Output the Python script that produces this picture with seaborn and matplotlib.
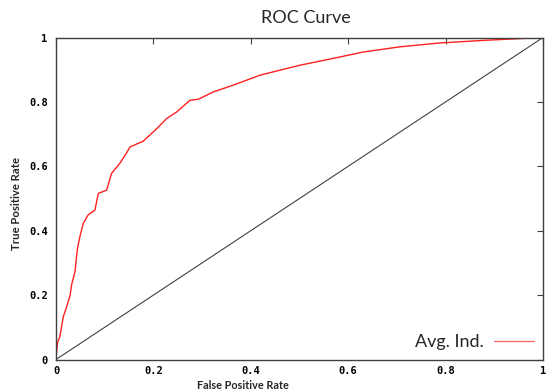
import matplotlib
matplotlib.use("Agg")
import matplotlib.pyplot as plt
import seaborn as sns
import numpy as np
import pandas as pd

sns.set_style("white")

# values
fpr = [0.0, 0.003, 0.008, 0.012, 0.015, 0.022, 0.029, 0.032, 0.039, 0.044, 0.049,
       0.056, 0.066, 0.080, 0.084, 0.087, 0.104, 0.114, 0.131, 0.145, 0.152,
       0.179, 0.207, 0.227, 0.248, 0.275, 0.292, 0.296, 0.323, 0.364, 0.419,
       0.501, 0.569, 0.631, 0.706, 0.788, 0.877, 1.0]
tpr = [0.0, 0.052, 0.071, 0.108, 0.133, 0.164, 0.200, 0.232, 0.273, 0.345, 0.381,
       0.423, 0.449, 0.464, 0.495, 0.516, 0.526, 0.578, 0.609, 0.642, 0.660,
       0.678, 0.717, 0.748, 0.769, 0.805, 0.808, 0.811, 0.831, 0.852, 0.883,
       0.914, 0.935, 0.955, 0.971, 0.983, 0.991, 1.0]
diag = [0.0, 1.0]
ticks = [0, 0.2, 0.4, 0.6, 0.8, 1]
tick_labels = ["0", "0.2", "0.4", "0.6", "0.8", "1"]

roc = pd.DataFrame({"fpr": fpr, "tpr": tpr})
chance = pd.DataFrame({"fpr": diag, "tpr": diag})

fig = plt.figure(figsize=(5.48, 3.92), dpi=100)
ax = fig.add_axes([56 / 548, 1 - 359.5 / 392, 487 / 548, 322 / 392])

sns.lineplot(data=chance, x="fpr", y="tpr", ax=ax, color="#404040", lw=0.8,
             estimator=None, sort=False)
sns.lineplot(data=roc, x="fpr", y="tpr", ax=ax, color="#ff2020", lw=1.0,
             estimator=None, sort=False, label="Avg. Ind.")

ax.set_xlim(0, 1)
ax.set_ylim(0, 1)
ax.set_xticks(ticks)
ax.set_yticks(ticks)
mono = dict(family="DejaVu Sans Mono", weight="bold", size=7.5)
ax.set_xticklabels(tick_labels, fontdict=mono)
ax.set_yticklabels(tick_labels, fontdict=mono)
ax.tick_params(direction="in", top=True, right=True, length=4, width=0.8,
               colors="#404040", pad=6)
ax.tick_params(axis="x", pad=5)
for tl in ax.get_xticklabels() + ax.get_yticklabels():
    tl.set_color("black")
for s in ax.spines.values():
    s.set_color("#404040")
    s.set_linewidth(1.0)
ax.set_xlabel("")
ax.set_ylabel("")

leg = ax.legend(loc="lower right", frameon=False, markerfirst=False,
                prop=dict(family="Lato", size=13), handlelength=2.2,
                borderaxespad=0.1, handletextpad=0.6)
leg.get_lines()[0].set_color("#f07070")

fig.text(306 / 548, 1 - 18 / 392, "ROC Curve", family="Lato", size=13,
         ha="center", va="center")
fig.text(243 / 548, 1 - 385.5 / 392, "False Positive Rate", family="Lato",
         size=7.8, weight="bold", ha="center", va="center")
fig.text(17 / 548, 1 - 204 / 392, "True Positive Rate", family="Lato",
         size=8.2, weight="bold", rotation=90, ha="center", va="center")

fig.savefig("out.png", dpi=100)
